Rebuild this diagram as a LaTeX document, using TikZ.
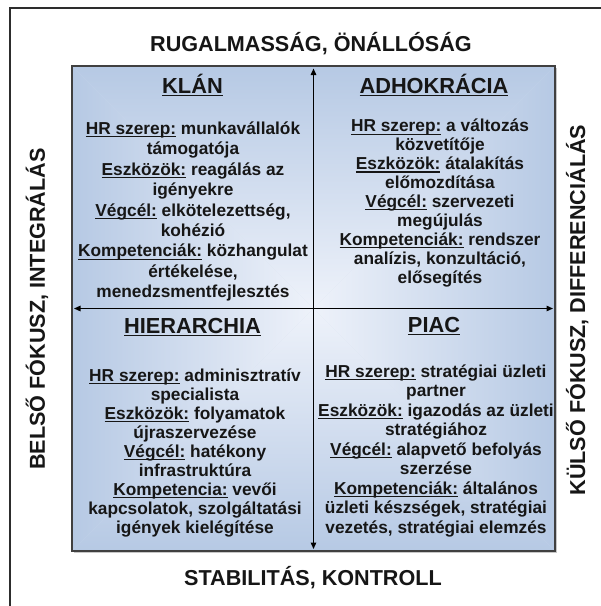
\documentclass[tikz,border=0pt]{standalone}
\usepackage{fontspec}
\setmainfont{Liberation Sans}
\usetikzlibrary{arrows.meta}

\definecolor{quadouter}{RGB}{182,201,228}
\definecolor{quadinner}{RGB}{238,242,250}
\definecolor{ink}{RGB}{22,22,22}
\definecolor{framegray}{RGB}{45,45,45}

% underlined label: rule at a fixed depth below the baseline
\newcommand\ulab[1]{\leavevmode\setbox0\hbox{#1}\rlap{\rule[-0.17em]{\wd0}{0.075em}}\box0\relax}
\newcommand\ultitle[1]{\leavevmode\setbox0\hbox{#1}\rlap{\rule[-0.16em]{\wd0}{0.085em}}\box0\relax}
\newcommand\firstline{\rule{0pt}{14pt}}

\tikzset{
  outerlabel/.style={font=\fontsize{21.6pt}{24pt}\selectfont\bfseries, text=ink, inner sep=0pt, anchor=base},
  quadtitle/.style={font=\fontsize{21.8pt}{24pt}\selectfont\bfseries, text=ink, inner sep=0pt, anchor=base},
  quadbody/.style={font=\fontsize{17.3pt}{#1}\selectfont\bfseries, text=ink, align=center, inner sep=0pt, anchor=north},
  axisarrow/.style={line width=1.3pt, draw=black, -{Triangle[length=6.5pt,width=5.5pt]}},
}

\begin{document}
\begin{tikzpicture}[x=1pt,y=-1pt]
\useasboundingbox (0,0) rectangle (601,606);
\fill[white] (0,0) rectangle (601,606);

% outer frame (top and left edges)
\draw[line width=2.2pt, framegray] (10,606) -- (10,8) -- (601,8);

% square corners and centre
\coordinate (tl) at (72,66);
\coordinate (tr) at (555,66);
\coordinate (bl) at (72,551);
\coordinate (br) at (555,551);
\coordinate (c) at (313.5,308.5);

% drop shadow
\fill[black!22] (74,68) rectangle (557,553);

% rectangular gradient: light centre, blue rim
\fill[quadouter!50!quadinner] (tl) rectangle (br);
\begin{scope}
  \clip (c) -- (tl) -- (tr) -- cycle;
  \shade[top color=quadouter, bottom color=quadinner] (72,66) rectangle (555,308.5);
\end{scope}
\begin{scope}
  \clip (c) -- (bl) -- (br) -- cycle;
  \shade[top color=quadinner, bottom color=quadouter] (72,308.5) rectangle (555,551);
\end{scope}
\begin{scope}
  \clip (c) -- (tl) -- (bl) -- cycle;
  \shade[left color=quadouter, right color=quadinner] (72,66) rectangle (313.5,551);
\end{scope}
\begin{scope}
  \clip (c) -- (tr) -- (br) -- cycle;
  \shade[left color=quadinner, right color=quadouter] (313.5,66) rectangle (555,551);
\end{scope}
\draw[line width=1.8pt, black!75] (tl) rectangle (br);

% axes
\coordinate (up) at (313.5,68.5);
\coordinate (dn) at (313.5,549);
\coordinate (lf) at (74,308.5);
\coordinate (rt) at (553,308.5);
\draw[axisarrow] (c) -- (up);
\draw[axisarrow] (c) -- (dn);
\draw[axisarrow] (c) -- (lf);
\draw[axisarrow] (c) -- (rt);

% axis labels
\node[outerlabel] (northlbl) at (311,51.5) {RUGALMASSÁG, ÖNÁLLÓSÁG};
\node[outerlabel] (southlbl) at (313,585) {STABILITÁS, KONTROLL};
\node[outerlabel, rotate=90] (westlbl) at (45,309) {BELSŐ FÓKUSZ, INTEGRÁLÁS};
\node[outerlabel, rotate=90] (eastlbl) at (585,310) {KÜLSŐ FÓKUSZ, DIFFERENCIÁLÁS};

% quadrant titles
\node[quadtitle] (klan) at (192.5,93) {\ultitle{KLÁN}};
\node[quadtitle] (adho) at (434,93) {\ultitle{ADHOKRÁCIA}};
\node[quadtitle] (hier) at (192.5,333) {\ultitle{HIERARCHIA}};
\node[quadtitle] (piac) at (434,332) {\ultitle{PIAC}};

% quadrant texts
\node[quadbody=20.4pt] (klanbody) at (193,120.3) {\firstline\ulab{HR szerep:} munkavállalók\\
támogatója\\
\ulab{Eszközök:} reagálás az\\
igényekre\\
\ulab{Végcél:} elkötelezettség,\\
kohézió\\
\ulab{Kompetenciák:} közhangulat\\
értékelése,\\
menedzsmentfejlesztés};

\node[quadbody=18.9pt] (adhobody) at (440,117.7) {\firstline\ulab{HR szerep:} a változás\\
közvetítője\\
\ulab{Eszközök:} átalakítás\\
előmozdítása\\
\ulab{Végcél:} szervezeti\\
megújulás\\
\ulab{Kompetenciák:} rendszer\\
analízis, konzultáció,\\
elősegítés};

\node[quadbody=19.05pt] (hierbody) at (195,367) {\firstline\ulab{HR szerep:} adminisztratív\\
specialista\\
\ulab{Eszközök:} folyamatok\\
újraszervezése\\
\ulab{Végcél:} hatékony\\
infrastruktúra\\
\ulab{Kompetencia:} vevői\\
kapcsolatok, szolgáltatási\\
igények kielégítése};

\node[quadbody=19.5pt] (piacbody) at (436,363) {\firstline\ulab{HR szerep:} stratégiai üzleti\\
partner\\
\ulab{Eszközök:} igazodás az üzleti\\
stratégiához\\
\ulab{Végcél:} alapvető befolyás\\
szerzése\\
\ulab{Kompetenciák:} általános\\
üzleti készségek, stratégiai\\
vezetés, stratégiai elemzés};
\end{tikzpicture}
\end{document}
